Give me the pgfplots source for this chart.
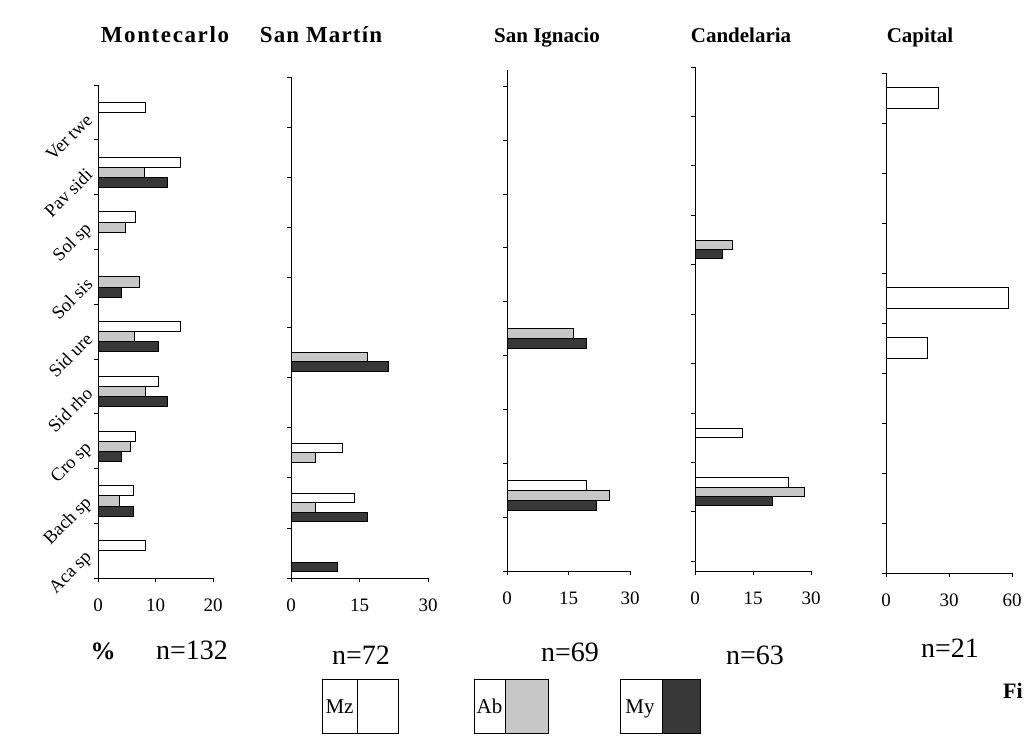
\documentclass[border=0pt]{standalone}
\usepackage{fontspec}
\setmainfont{Liberation Serif}
\usepackage{pgfplots}
\pgfplotsset{compat=1.18}
\definecolor{abgray}{gray}{0.78}
\definecolor{mydark}{gray}{0.22}

\pgfplotsset{
  panel/.style={
    xbar, scale only axis, anchor=south west,
    axis x line=bottom, axis y line=left,
    axis line style={-, black, line width=0.9pt},
    xmin=0, ymin=-0.5, enlargelimits=false,
    tick align=outside,
    major tick length=4pt,
    tick style={black, line width=0.7pt},
    yticklabels={},
    xticklabel style={font=\fontsize{19}{19}\selectfont, yshift=-13pt},
    /pgf/number format/assume math mode=true,
    clip=false,
  },
  mz/.style={draw=black, line width=1pt, fill=white, bar width=0.185, bar shift=0.09},
  ab/.style={draw=black, line width=1pt, fill=abgray, bar width=0.185, bar shift=-0.095},
  my/.style={draw=black, line width=1pt, fill=mydark, bar width=0.185, bar shift=-0.28},
}

\begin{document}
\begin{tikzpicture}
\useasboundingbox (0,0) rectangle (1024pt,-747pt);

% ---------- Montecarlo ----------
\begin{axis}[panel, at={(98pt,-578pt)}, width=115pt, height=493pt,
  xmax=20, ymax=8.5, xtick={0,10,20}, ytick={-0.5,0.5,...,8.5},
  extra y ticks={0,1,2,3,4,5,6,7,8},
  extra y tick labels={Aca sp,Bach sp,Cro sp,Sid rho,Sid ure,Sol sis,Sol sp,Pav sidi,Ver twe},
  extra y tick style={major tick length=0pt,
    yticklabel style={rotate=45, anchor=east, font=\fontsize{18.5}{18.5}\selectfont, xshift=-6pt, yshift=3pt}}]
\addplot[mz] coordinates {(8.2,0) (6.1,1) (6.5,2) (10.5,3) (14.3,4) (6.5,6) (14.3,7) (8.3,8)};
\addplot[ab] coordinates {(3.8,1) (5.6,2) (8.2,3) (6.3,4) (7.2,5) (4.7,6) (8.0,7)};
\addplot[my] coordinates {(6.1,1) (4.0,2) (12.1,3) (10.5,4) (4.0,5) (12.1,7)};
\end{axis}

% ---------- San Martin ----------
\begin{axis}[panel, at={(291pt,-578pt)}, width=137pt, height=501pt,
  xmax=30, ymax=9.5, xtick={0,15,30}, ytick={-0.5,0.5,...,9.5}]
\addplot[mz] coordinates {(14.0,1) (11.2,2)};
\addplot[ab] coordinates {(5.3,1) (5.3,2) (16.8,4)};
\addplot[my] coordinates {(10.1,0) (16.8,1) (21.3,4)};
\end{axis}

% ---------- San Ignacio ----------
\begin{axis}[panel, at={(507pt,-571pt)}, width=123pt, height=501pt,
  xmax=30, ymax=8.8, xtick={0,15,30}, ytick={-0.5,0.5,...,8.5}]
\addplot[mz] coordinates {(19.3,1)};
\addplot[ab] coordinates {(25.1,1) (16.2,4)};
\addplot[my] coordinates {(21.8,1) (19.5,4)};
\end{axis}

% ---------- Candelaria ----------
\begin{axis}[panel, at={(695pt,-571pt)}, width=116pt, height=504pt,
  xmax=30, ymin=-0.7, ymax=9.5, xtick={0,15,30}, ytick={-0.5,0.5,...,9.5}]
\addplot[mz] coordinates {(24.2,1) (12.2,2)};
\addplot[ab] coordinates {(28.3,1) (9.6,6)};
\addplot[my] coordinates {(20.1,1) (7.0,6)};
\end{axis}

% ---------- Capital ----------
\begin{axis}[panel, at={(886pt,-573pt)}, width=126pt, height=500pt,
  xmax=60, ymax=9.5, xtick={0,30,60}, ytick={-0.5,0.5,...,9.5}]
\addplot[draw=black, line width=1pt, fill=white, bar width=0.42, bar shift=0] coordinates {(19.8,4) (58.1,5) (25.0,9)};
\end{axis}

% ---------- titles ----------
\begin{scope}[every node/.style={anchor=base}]
\node[font=\fontsize{23}{23}\selectfont\bfseries\addfontfeature{LetterSpace=7}] at (165pt,-42pt) {Montecarlo};
\node[font=\fontsize{23}{23}\selectfont\bfseries\addfontfeature{LetterSpace=5}] at (321pt,-42pt) {San Martín};
\node[font=\fontsize{21}{21}\selectfont\bfseries] at (547pt,-42pt) {San Ignacio};
\node[font=\fontsize{21}{21}\selectfont\bfseries] at (741pt,-42pt) {Candelaria};
\node[font=\fontsize{21}{21}\selectfont\bfseries] at (920pt,-42pt) {Capital};
\end{scope}

% ---------- bottom texts ----------
\node[font=\fontsize{25}{25}\selectfont\bfseries, anchor=base] at (103pt,-659pt) {\%};
\begin{scope}[every node/.style={font=\fontsize{28}{28}\selectfont, anchor=base}]
\node at (192pt,-659pt) {n=132};
\node at (361pt,-664pt) {n=72};
\node at (570pt,-661pt) {n=69};
\node at (755pt,-664pt) {n=63};
\node at (950pt,-657pt) {n=21};
\end{scope}

% ---------- legend ----------
\begin{scope}[line width=1pt]
\draw (322pt,-679pt) rectangle (398pt,-733pt);
\draw (357pt,-679pt) -- (357pt,-733pt);
\node[font=\fontsize{21}{21}\selectfont, anchor=base] at (339.5pt,-713pt) {Mz};
\draw[fill=abgray] (505pt,-679pt) rectangle (548pt,-733pt);
\draw (474pt,-679pt) rectangle (548pt,-733pt);
\node[font=\fontsize{21}{21}\selectfont, anchor=base] at (489.5pt,-713pt) {Ab};
\draw[fill=mydark] (662pt,-679pt) rectangle (700pt,-733pt);
\draw (620pt,-679pt) rectangle (700pt,-733pt);
\node[font=\fontsize{21}{21}\selectfont, anchor=base] at (640pt,-713pt) {My};
\end{scope}
\node[font=\fontsize{22}{22}\selectfont\bfseries, anchor=base west, inner sep=0pt] at (1003pt,-698pt) {Fi};

\end{tikzpicture}
\end{document}
